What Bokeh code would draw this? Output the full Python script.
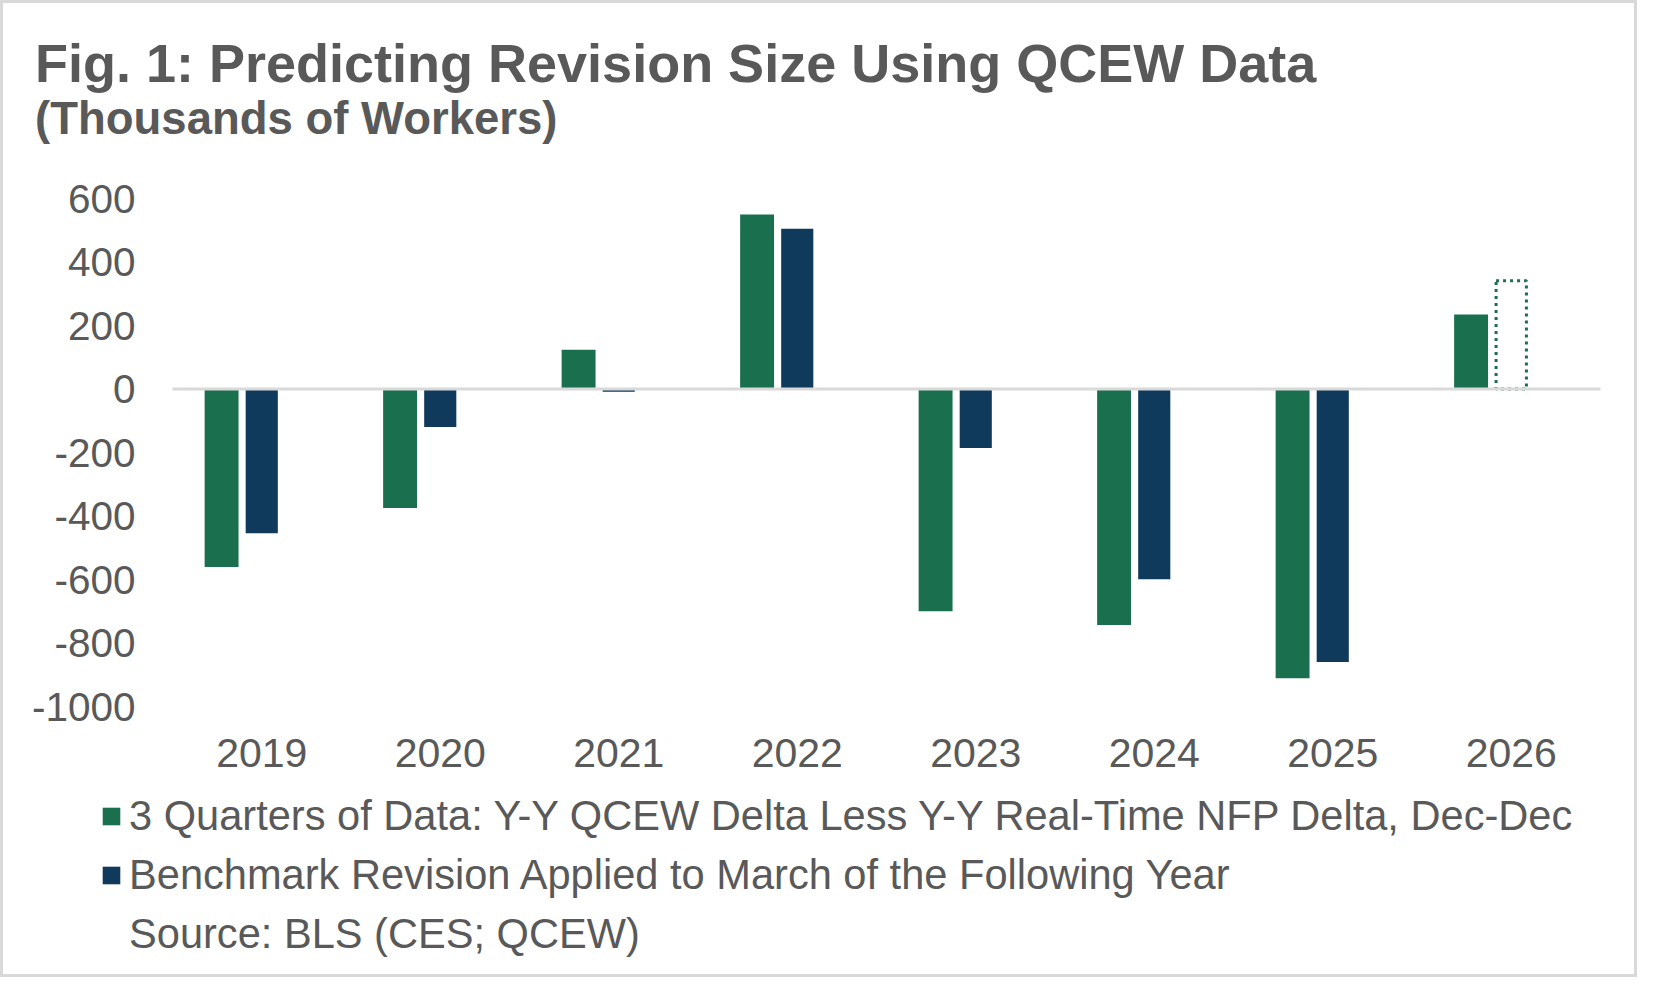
from bokeh.plotting import figure
from bokeh.layouts import column
from bokeh.models import (ColumnDataSource, FixedTicker, Label, Legend, LegendItem,
                          Range1d)
from bokeh.embed import file_html
from bokeh.resources import INLINE

# ---- data (thousands of workers) ----
years = ["2019", "2020", "2021", "2022", "2023", "2024", "2025", "2026"]
qcew_delta = [-561, -375, 124, 550, -700, -743, -911, 235]
benchmark = [-454, -120, -9, 505, -186, -599, -860]
projected_index = [7]           # 2026
projected = [341]
y_ticks = [-1000, -800, -600, -400, -200, 0, 200, 400, 600]

title_text = "Fig. 1: Predicting Revision Size Using QCEW Data"
subtitle_text = "(Thousands of Workers)"
series1_name = "3 Quarters of Data: Y-Y QCEW Delta Less Y-Y Real-Time NFP Delta, Dec-Dec"
series2_name = "Benchmark Revision Applied to March of the Following Year"
source_text = "Source: BLS (CES; QCEW)"

GREEN = "#1A6F4F"
NAVY = "#0F3A5C"
TEXT = "#595959"
GRID = "#D9D9D9"
FONT = "Liberation Sans"

# ---- layout (pixels) ----
W = 1631
HEAD_H, CHART_H, FOOT_H = 150, 630, 191
ML, MR, MT = 142, 0, 45
FRAME_H = 508
MB = CHART_H - MT - FRAME_H
CAT_PX = 178.5          # width of one category slot
FIRST_CENTER = 258.25   # x of the first category centre
x_lo = (ML - FIRST_CENTER) / CAT_PX
x_hi = (W - MR - FIRST_CENTER) / CAT_PX

idx = list(range(len(years)))
GREEN_OFF, BLUE_OFF = -0.225, 0.0


def blank(h):
    f = figure(width=W, height=h, x_range=Range1d(0, 1), y_range=Range1d(0, 1),
               x_axis_type=None, y_axis_type=None, output_backend="svg",
               toolbar_location=None, min_border=0, background_fill_color="white",
               border_fill_color="white", frame_align=False)
    f.outline_line_color = None
    f.title.visible = False
    return f


# ---- header: titles ----
head = blank(HEAD_H)
head.add_layout(Label(x=31.5, y=90.7, x_units="screen", y_units="screen",
                      text=title_text, text_font=FONT, text_font_size="54px",
                      text_font_style="bold", text_color=TEXT,
                      text_baseline="alphabetic", text_align="left"))
head.add_layout(Label(x=31.5, y=35, x_units="screen", y_units="screen",
                      text=subtitle_text, text_font=FONT, text_font_size="45.5px",
                      text_font_style="bold", text_color=TEXT,
                      text_baseline="alphabetic", text_align="left"))

# ---- chart ----
p = figure(width=W, height=CHART_H, x_range=Range1d(x_lo, x_hi),
           y_range=Range1d(-1000, 600), output_backend="svg", toolbar_location=None,
           min_border_left=ML, min_border_right=MR, min_border_top=MT,
           min_border_bottom=MB, background_fill_color="white",
           border_fill_color="white", frame_align=False)
p.outline_line_color = None
p.xgrid.visible = False
p.ygrid.visible = False
p.title.visible = False

src1 = ColumnDataSource(dict(x=[i + GREEN_OFF for i in idx], v=qcew_delta))
src2 = ColumnDataSource(dict(x=[i + BLUE_OFF for i in idx[:len(benchmark)]], v=benchmark))
src3 = ColumnDataSource(dict(x=[i + BLUE_OFF for i in projected_index], v=projected))

p.vbar(x="x", top="v", bottom=0, width=0.19, source=src1, fill_color=GREEN,
       line_color=None)
p.vbar(x="x", top="v", bottom=0, width=0.18, source=src2, fill_color=NAVY,
       line_color=None)
p.vbar(x="x", top="v", bottom=0, width=0.17, source=src3, fill_alpha=0,
       line_color=GREEN, line_width=3, line_dash="3 4")

# category axis baseline at zero (drawn over the bars)
p.segment(x0=[idx[0] - 0.5], x1=[idx[-1] + 0.5], y0=[0], y1=[0],
          line_color=GRID, line_width=3)

p.yaxis.ticker = FixedTicker(ticks=y_ticks)
p.yaxis.major_label_overrides = {t: str(t) for t in y_ticks}
p.yaxis.axis_line_color = None
p.yaxis.major_tick_line_color = None
p.yaxis.minor_tick_line_color = None
p.yaxis.major_tick_out = 0
p.yaxis.major_tick_in = 0
p.yaxis.major_label_standoff = 10
p.yaxis.major_label_text_font = FONT
p.yaxis.major_label_text_font_size = "40.5px"
p.yaxis.major_label_text_color = TEXT

p.xaxis.ticker = FixedTicker(ticks=idx)
p.xaxis.major_label_overrides = {i: y for i, y in zip(idx, years)}
p.xaxis.axis_line_color = None
p.xaxis.major_tick_line_color = None
p.xaxis.minor_tick_line_color = None
p.xaxis.major_label_standoff = 26
p.xaxis.major_label_text_font = FONT
p.xaxis.major_label_text_font_size = "41px"
p.xaxis.major_label_text_color = TEXT

# ---- footer: legend + source ----
foot = blank(FOOT_H)
g1 = foot.vbar(x="x", top="v", bottom=0, width=0.19, source=src1, fill_color=GREEN,
               line_color=None, visible=False)
g2 = foot.vbar(x="x", top="v", bottom=0, width=0.18, source=src2, fill_color=NAVY,
               line_color=None, visible=False)
g3 = foot.vbar(x=[], top=[], width=0.1, fill_alpha=0, line_alpha=0)
legend = Legend(items=[LegendItem(label=series1_name, renderers=[g1]),
                       LegendItem(label=series2_name, renderers=[g2]),
                       LegendItem(label=source_text, renderers=[g3])],
                location=(97, 16), orientation="vertical",
                glyph_width=22, glyph_height=22, label_standoff=7, padding=0,
                spacing=11, margin=0, border_line_color=None,
                background_fill_alpha=0, inactive_fill_alpha=0,
                label_text_font=FONT, label_text_font_size="41.6px",
                label_text_color=TEXT)
foot.add_layout(legend)

page = column(head, p, foot, spacing=0, styles={"border": "3px solid #D9D9D9"})
open("out.html", "w").write(file_html(page, INLINE))
